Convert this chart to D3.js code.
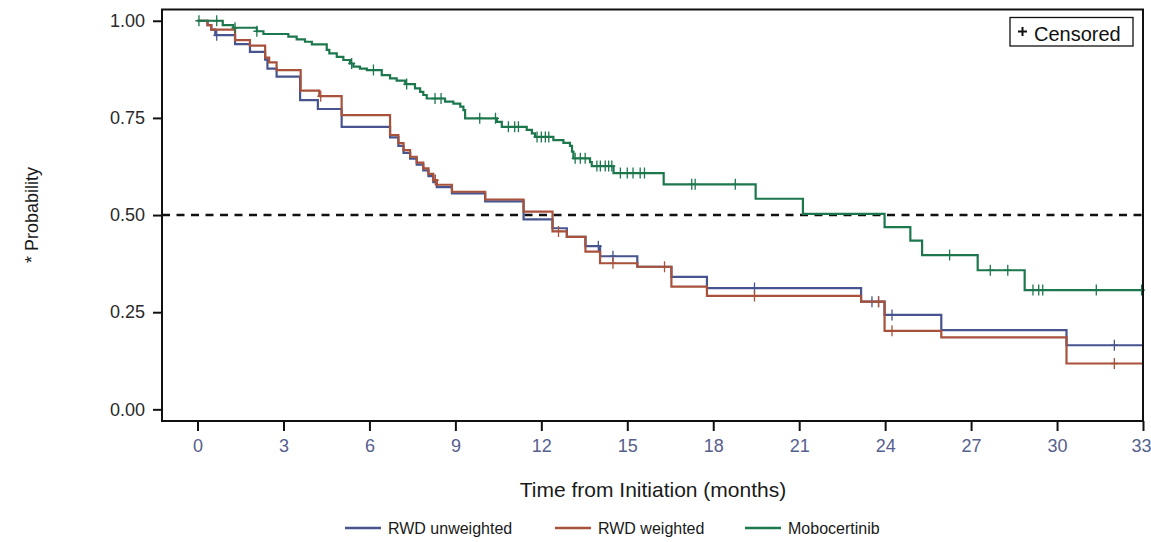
<!DOCTYPE html>
<html>
<head>
<meta charset="utf-8">
<script src="https://cdn.jsdelivr.net/npm/d3@7/dist/d3.min.js"></script>
<style>
    body { margin: 0; background: #ffffff; }
    svg { display: block; font-family: Arial, "Liberation Sans", sans-serif; }
</style>
</head>
<body>
<svg id="chart" width="1151" height="542"></svg>
<script>
// Kaplan-Meier step data (time in months, survival probability)
var seriesNames = ["RWD unweighted", "RWD weighted", "Mobocertinib"];
var seriesColors = ["#47548f", "#a8513b", "#1d774d"];

var rwdUnwTime = [0, 0.35, 0.48, 0.62, 1.31, 1.83, 2.36, 2.44, 2.76, 3.58, 4.2, 5.03, 6.72, 7.01, 7.19, 7.42, 7.65, 7.88, 8.06, 8.23, 8.35, 8.88, 10.04, 11.38, 12.39, 12.89, 13.54, 14.05, 15.35, 16.54, 17.78, 23.16, 23.98, 25.96, 30.33];
var rwdUnwSurv = [1, 0.989, 0.977, 0.963, 0.94, 0.92, 0.90, 0.877, 0.856, 0.796, 0.773, 0.727, 0.70, 0.678, 0.66, 0.645, 0.63, 0.615, 0.60, 0.585, 0.572, 0.556, 0.535, 0.489, 0.466, 0.444, 0.42, 0.394, 0.367, 0.341, 0.312, 0.277, 0.243, 0.204, 0.165];
var rwdUnwCens = [0.67, 13.99, 14.5, 19.44, 23.54, 23.77, 24.24, 32.0];

var rwdWtTime = [0, 0.35, 0.48, 1.31, 1.83, 2.36, 2.5, 2.76, 3.6, 4.25, 5.03, 6.72, 7.01, 7.19, 7.42, 7.65, 7.88, 8.06, 8.23, 8.35, 8.88, 10.04, 11.38, 12.39, 12.89, 13.54, 14.05, 15.35, 16.54, 17.78, 23.16, 23.98, 25.96, 30.33];
var rwdWtSurv = [1, 0.989, 0.977, 0.95, 0.936, 0.905, 0.893, 0.873, 0.82, 0.806, 0.757, 0.706, 0.685, 0.667, 0.65, 0.635, 0.62, 0.606, 0.59, 0.578, 0.56, 0.54, 0.509, 0.458, 0.444, 0.406, 0.376, 0.367, 0.316, 0.292, 0.277, 0.202, 0.185, 0.118];
var rwdWtCens = [4.3, 8.3, 12.6, 14.5, 16.3, 19.44, 23.77, 24.24, 32.0];

var moboTime = [0, 0.88, 1.25, 2.07, 2.3, 3.17, 3.46, 3.75, 3.99, 4.51, 4.6, 4.86, 5.09, 5.32, 5.44, 5.67, 5.91, 6.43, 6.72, 6.95, 7.25, 7.59, 7.77, 7.88, 8.0, 8.64, 8.93, 9.17, 9.28, 9.34, 10.45, 10.62, 11.49, 11.67, 11.78, 12.42, 12.77, 13.0, 13.07, 13.12, 13.7, 13.76, 14.52, 16.27, 19.48, 21.13, 23.98, 24.88, 25.29, 27.23, 28.87];
var moboSurv = [1, 0.989, 0.982, 0.973, 0.966, 0.959, 0.952, 0.946, 0.939, 0.925, 0.916, 0.907, 0.899, 0.89, 0.882, 0.877, 0.873, 0.86, 0.852, 0.846, 0.837, 0.826, 0.817, 0.809, 0.80, 0.792, 0.787, 0.779, 0.77, 0.749, 0.74, 0.727, 0.719, 0.71, 0.701, 0.693, 0.686, 0.678, 0.663, 0.646, 0.636, 0.626, 0.608, 0.579, 0.542, 0.503, 0.469, 0.434, 0.397, 0.358, 0.307];
var moboCens = [0.05, 0.67, 1.31, 2.07, 5.38, 6.14, 7.3, 8.29, 8.5, 9.85, 10.4, 10.85, 11.07, 11.2, 11.85, 12.0, 12.14, 12.26, 13.18, 13.36, 13.53, 13.94, 14.06, 14.23, 14.35, 14.46, 14.76, 15.0, 15.2, 15.45, 15.6, 17.25, 17.37, 18.77, 26.25, 27.67, 28.28, 29.16, 29.36, 29.5, 31.37, 32.95];

var xTicks = [0, 3, 6, 9, 12, 15, 18, 21, 24, 27, 30, 33];
var yTicks = [0, 0.25, 0.5, 0.75, 1];
var maxTime = 33;

(function () {

    var series = [
        { name: seriesNames[0], color: seriesColors[0], time: rwdUnwTime, surv: rwdUnwSurv, cens: rwdUnwCens },
        { name: seriesNames[1], color: seriesColors[1], time: rwdWtTime, surv: rwdWtSurv, cens: rwdWtCens },
        { name: seriesNames[2], color: seriesColors[2], time: moboTime, surv: moboSurv, cens: moboCens }
    ];

    var svg = d3.select("#chart");

    // Plot frame bounds
    var plotLeft = 162, plotRight = 1143, plotTop = 9.5, plotBottom = 421;

    var x = d3.scaleLinear().domain([-1.24, maxTime]).range([plotLeft, plotRight]);
    var y = d3.scaleLinear().domain([-0.03, 1.029]).range([plotBottom, plotTop]);

    // Survival value at time t for a step series
    function survAt(s, t) {
        var i = d3.bisectRight(s.time, t) - 1;
        return s.surv[Math.max(i, 0)];
    }

    // Reference line at the median
    svg.append("line")
        .attr("x1", plotLeft)
        .attr("x2", plotRight)
        .attr("y1", y(0.5))
        .attr("y2", y(0.5))
        .style("stroke", "#111")
        .style("stroke-width", 2.6)
        .style("stroke-dasharray", "8,6.5");

    // Step curves
    var line = d3.line()
        .x(function (d) { return x(d[0]); })
        .y(function (d) { return y(d[1]); })
        .curve(d3.curveStepAfter);

    series.forEach(function (s) {
        var pts = s.time.map(function (t, i) { return [t, s.surv[i]]; });
        pts.push([maxTime, s.surv[s.surv.length - 1]]);

        svg.append("path")
            .datum(pts)
            .attr("class", "kmLine")
            .attr("d", line)
            .style("fill", "none")
            .style("stroke", s.color)
            .style("stroke-width", 2.2);

        // Censor marks as small plus signs
        svg.append("g")
            .selectAll("path")
            .data(s.cens)
            .enter()
            .append("path")
                .attr("d", function (t) {
                    var cx = x(t), cy = y(survAt(s, t));
                    return "M" + (cx - 3.5) + "," + cy + "H" + (cx + 3.5) +
                        "M" + cx + "," + (cy - 5.5) + "V" + (cy + 5.5);
                })
                .style("fill", "none")
                .style("stroke", s.color)
                .style("stroke-width", 1.3);
    });

    // Frame
    svg.append("rect")
        .attr("x", plotLeft)
        .attr("y", plotTop)
        .attr("width", plotRight - plotLeft)
        .attr("height", plotBottom - plotTop)
        .style("fill", "none")
        .style("stroke", "#111")
        .style("stroke-width", 2);

    // Y axis
    var yAxis = svg.append("g")
        .attr("transform", "translate(" + plotLeft + ",0)")
        .call(d3.axisLeft(y).tickValues(yTicks).tickFormat(d3.format(".2f")).tickSize(9).tickPadding(8));
    yAxis.select(".domain").remove();
    yAxis.selectAll("line").style("stroke", "#111").style("stroke-width", 2);
    yAxis.selectAll("text")
        .style("font-size", "18px")
        .style("font-family", "Arial, 'Liberation Sans', sans-serif")
        .style("fill", "#2a2a2a");

    // X axis
    var xAxis = svg.append("g")
        .attr("transform", "translate(0," + plotBottom + ")")
        .call(d3.axisBottom(x).tickValues(xTicks).tickSize(10).tickPadding(8));
    xAxis.select(".domain").remove();
    xAxis.selectAll("line").style("stroke", "#111").style("stroke-width", 2);
    xAxis.selectAll("text")
        .style("font-size", "18px")
        .style("font-family", "Arial, 'Liberation Sans', sans-serif")
        .style("fill", "#56608e");
    // last label sits at the page edge; keep it inside
    xAxis.selectAll(".tick")
        .filter(function (d) { return d === maxTime; })
        .select("text")
            .attr("x", -2);

    // Axis titles
    svg.append("text")
        .attr("transform", "translate(38,215) rotate(-90)")
        .attr("text-anchor", "middle")
        .style("font-size", "18px")
        .style("fill", "#1a1a1a")
        .text("* Probability");

    svg.append("text")
        .attr("x", 653)
        .attr("y", 497)
        .attr("text-anchor", "middle")
        .style("font-size", "21px")
        .style("fill", "#1a1a1a")
        .text("Time from Initiation (months)");

    // Censored key box
    var key = svg.append("g").attr("class", "censorKey");
    key.append("rect")
        .attr("x", 1010)
        .attr("y", 17.5)
        .attr("width", 123)
        .attr("height", 28.5)
        .style("fill", "#fff")
        .style("stroke", "#111")
        .style("stroke-width", 1.3);
    key.append("path")
        .attr("d", "M1018,31.5H1027M1022.5,27V36")
        .style("stroke", "#111")
        .style("stroke-width", 2);
    key.append("text")
        .attr("x", 1034)
        .attr("y", 40.5)
        .style("font-size", "20px")
        .style("fill", "#111")
        .text("Censored");

    // Bottom legend
    var legendX = [345, 555, 745];
    var legend = svg.selectAll(".legend")
        .data(series)
        .enter()
        .append("g")
            .attr("class", "legend")
            .attr("transform", function (d, i) { return "translate(" + legendX[i] + ",528)"; });
    legend.append("line")
        .attr("x1", 0)
        .attr("x2", 36)
        .style("stroke", function (d) { return d.color; })
        .style("stroke-width", 2.5);
    legend.append("text")
        .attr("x", 43)
        .attr("y", 6)
        .style("font-size", "16px")
        .style("fill", "#1a1a1a")
        .text(function (d) { return d.name; });
})();
</script>
</body>
</html>
